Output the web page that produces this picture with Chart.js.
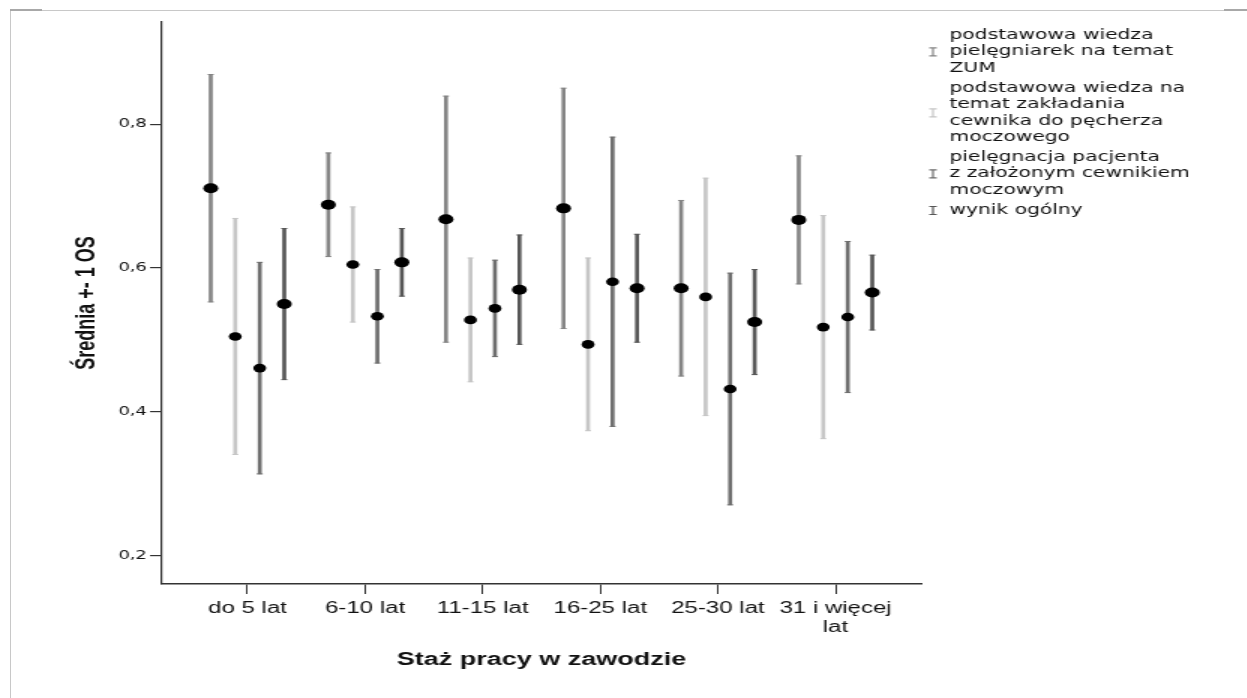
<!DOCTYPE html>
<html lang="pl">
<head>
<meta charset="utf-8">
<title>Średnia +- 1 OS</title>
<script src="https://cdn.jsdelivr.net/npm/chart.js@4.4.1/dist/chart.umd.min.js"></script>
<style>
  html, body { margin: 0; padding: 0; background: #fff; overflow: hidden; }
  #frame { position: absolute; left: 10px; top: 10px; width: 1237px; height: 688px;
           border-left: 1px solid #c8c8c8; border-top: 1px solid #c8c8c8; }
  .seg { position: absolute; top: 9px; height: 2px; background: #a8a8a8; }
  /* the original picture is stretched sideways, so the chart is drawn narrow and widened */
  #wrap { position: absolute; left: 0; top: 0; width: 832px; height: 698px;
          transform: scaleX(1.5); transform-origin: 0 0; }
</style>
</head>
<body>
<div id="frame"></div>
<div class="seg" style="left:10px;width:32px"></div>
<div class="seg" style="left:1224px;width:23px"></div>
<div id="wrap"><canvas id="chart" width="832" height="698"></canvas></div>
<script>
// categories (x axis)
const categories = ['do 5 lat', '6-10 lat', '11-15 lat', '16-25 lat', '25-30 lat', ['31 i więcej', 'lat']];

// legend names, split in lines as in the picture
const seriesNames = [
    ['podstawowa wiedza', 'pielęgniarek na temat', 'ZUM'],
    ['podstawowa wiedza na', 'temat zakładania', 'cewnika do pęcherza', 'moczowego'],
    ['pielęgnacja pacjenta', 'z założonym cewnikiem', 'moczowym'],
    ['wynik ogólny']
];

// means and standard deviations (error bar = mean +- 1 SD)
const meanZum = [0.711, 0.688, 0.668, 0.683, 0.572, 0.667];
const sdZum = [0.158, 0.072, 0.171, 0.167, 0.122, 0.089];

const meanCewnik = [0.505, 0.605, 0.528, 0.494, 0.560, 0.518];
const sdCewnik = [0.164, 0.080, 0.086, 0.120, 0.165, 0.155];

const meanPielegnacja = [0.461, 0.533, 0.544, 0.581, 0.432, 0.532];
const sdPielegnacja = [0.147, 0.065, 0.067, 0.201, 0.161, 0.105];

const meanWynik = [0.550, 0.608, 0.570, 0.572, 0.525, 0.566];
const sdWynik = [0.105, 0.047, 0.076, 0.075, 0.073, 0.052];

// y axis ticks
const yTicks = [0.2, 0.4, 0.6, 0.8];

const means = [meanZum, meanCewnik, meanPielegnacja, meanWynik];
const sds = [sdZum, sdCewnik, sdPielegnacja, sdWynik];
const colors = ['#858585', '#c6c6c6', '#6e6e6e', '#575757'];
const shift = [-0.3125, -0.1042, 0.1042, 0.3125];
const dotSize = [5, 4.3, 4.3, 5];

let datasets = [];
means.forEach(function (m, s) {
    // vertical error bar
    datasets.push({
        type: 'bar',
        label: seriesNames[s].join(' '),
        data: m.map((v, i) => ({ x: i + shift[s], y: [v - sds[s][i], v + sds[s][i]] })),
        backgroundColor: colors[s],
        barThickness: 2,
        grouped: false,
        order: 3
    });
    // caps
    let caps = [];
    m.forEach((v, i) => {
        caps.push({ x: i + shift[s], y: v - sds[s][i] });
        caps.push({ x: i + shift[s], y: v + sds[s][i] });
    });
    datasets.push({
        type: 'scatter',
        data: caps,
        pointStyle: 'line',
        pointRadius: 2,
        borderColor: colors[s],
        borderWidth: 1,
        order: 2
    });
    // mean
    datasets.push({
        type: 'scatter',
        data: m.map((v, i) => ({ x: i + shift[s], y: v })),
        pointStyle: 'circle',
        pointRadius: dotSize[s],
        backgroundColor: '#000',
        borderColor: '#000',
        borderWidth: 0,
        order: 1
    });
});

const legendPlugin = {
    id: 'spssLegend',
    afterDraw(chart) {
        const ctx = chart.ctx;
        const left = chart.chartArea.right;
        const lineH = 16.3;
        let y = 35.5;
        ctx.save();
        ctx.font = '13.5px "DejaVu Sans"';
        ctx.textBaseline = 'middle';
        seriesNames.forEach((lines, s) => {
            const mid = y + (lines.length - 1) * lineH / 2;
            ctx.strokeStyle = colors[s];
            ctx.lineWidth = 1.2;
            ctx.beginPath();
            ctx.moveTo(left + 8, mid - 4); ctx.lineTo(left + 8, mid + 4);
            ctx.moveTo(left + 5.5, mid - 4); ctx.lineTo(left + 10.5, mid - 4);
            ctx.moveTo(left + 5.5, mid + 4); ctx.lineTo(left + 10.5, mid + 4);
            ctx.stroke();
            ctx.fillStyle = '#111';
            lines.forEach((t, k) => ctx.fillText(t, left + 19, y + k * lineH));
            y += (lines.length - 1) * lineH + 20.3;
        });
        ctx.restore();
    }
};

const sans = '"Liberation Sans", Arial, sans-serif';

new Chart(document.getElementById('chart'), {
    type: 'scatter',
    data: { datasets: datasets },
    plugins: [legendPlugin],
    options: {
        responsive: false,
        animation: false,
        devicePixelRatio: 1,
        layout: { padding: { left: 0, right: 218, top: 22, bottom: 0 } },
        plugins: {
            legend: { display: false },
            tooltip: { enabled: false }
        },
        scales: {
            x: {
                type: 'linear',
                min: -0.727,
                max: 5.727,
                offset: false,
                afterBuildTicks: axis => { axis.ticks = categories.map((c, i) => ({ value: i })); },
                afterFit: axis => { axis.height = 114; },
                ticks: {
                    callback: v => categories[v],
                    font: { family: sans, size: 16 },
                    color: '#111',
                    padding: 5,
                    maxRotation: 0,
                    autoSkip: false
                },
                grid: { drawOnChartArea: false, tickLength: 10, color: '#333', lineWidth: 1, offset: false },
                border: { display: true, color: '#333', width: 1.5 },
                title: {
                    display: true,
                    text: 'Staż pracy w zawodzie',
                    font: { family: sans, size: 18, weight: 'bold' },
                    color: '#111',
                    padding: { top: 0, bottom: 27 }
                }
            },
            y: {
                type: 'linear',
                min: 0.161,
                max: 0.942,
                afterBuildTicks: axis => { axis.ticks = yTicks.map(v => ({ value: v })); },
                afterFit: axis => { axis.width = 108; },
                ticks: {
                    callback: v => v.toFixed(1).replace('.', ','),
                    font: { family: '"DejaVu Sans"', size: 12 },
                    color: '#111',
                    padding: 2
                },
                grid: { drawOnChartArea: false, tickLength: 8, color: '#333', lineWidth: 1.2 },
                border: { display: true, color: '#333', width: 1.2 },
                title: {
                    display: true,
                    text: 'Średnia +- 1 OS',
                    font: { family: sans, size: 18, weight: 'bold' },
                    color: '#111',
                    padding: { top: 47, bottom: 0 }
                }
            }
        }
    }
});
</script>
</body>
</html>
